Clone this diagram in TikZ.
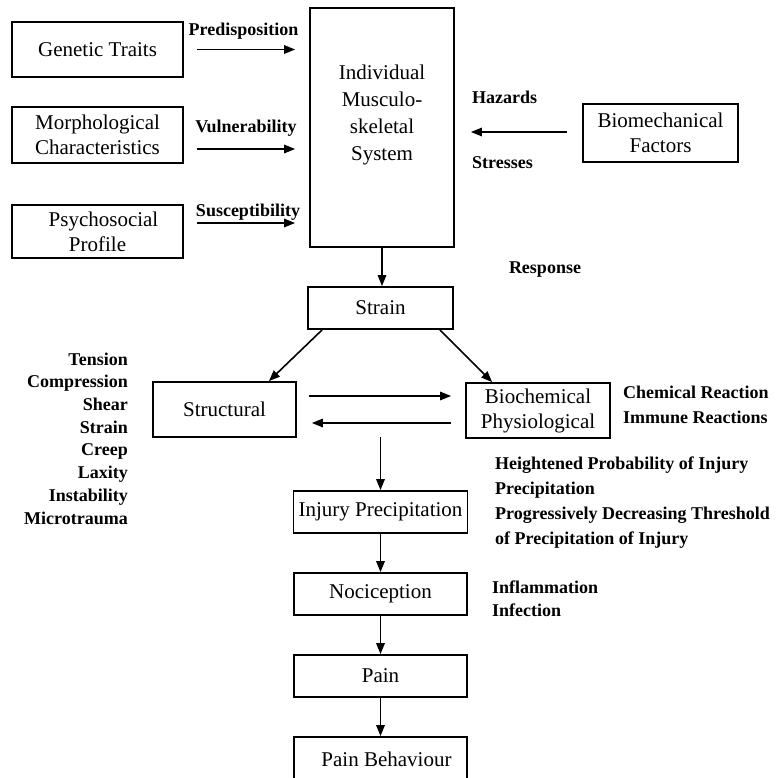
\documentclass[tikz,border=0pt]{standalone}
\usepackage{fontspec}
\setmainfont{Liberation Serif}
\usetikzlibrary{arrows.meta}
\begin{document}
\begin{tikzpicture}[x=1pt,y=-1pt,
  box/.style={draw, line width=1.8pt, inner sep=0pt, align=center,
    font=\fontsize{21}{25}\selectfont},
  lbl/.style={inner sep=0pt, font=\bfseries\fontsize{18}{25}\selectfont},
  arr/.style={line width=1.6pt, -{Triangle[length=11pt,width=8.5pt]}},
]
\useasboundingbox (0,0) rectangle (779,778);
\clip (0,0) rectangle (779,778);

% input factors
\node[box, minimum width=171pt, minimum height=55pt] (gen) at (97.5,49.5) {Genetic Traits};
\node[box, minimum width=171pt, minimum height=56pt] (morph) at (97.5,135) {Morphological\\Characteristics};
\node[box, minimum width=171pt, minimum height=53pt] (psy) at (97.5,231.5) {\hspace*{12pt}Psychosocial\\Profile};

% central system
\node[box, minimum width=144pt, minimum height=239pt] (ms) at (382,127.5) {};
\node[inner sep=0pt, align=center, font=\fontsize{21}{27}\selectfont] (mstext) at (382,115)
  {Individual\\Musculo-\\skeletal\\System};

\node[box, minimum width=155pt, minimum height=58pt] (bio) at (660.5,133) {Biomechanical\\Factors};

% response chain
\node[box, minimum width=145pt, minimum height=42pt] (strain) at (380.5,308) {Strain};
\node[box, minimum width=143pt, minimum height=55pt] (struct) at (224.5,409.5) {Structural};
\node[box, minimum width=144pt, minimum height=55pt] (biochem) at (538,410.5) {Biochemical\\Physiological};
\node[box, minimum width=174pt, minimum height=42pt] (injury) at (380.5,512) {Injury Precipitation};
\node[box, minimum width=173pt, minimum height=42pt] (noci) at (380.5,594) {Nociception};
\node[box, minimum width=173pt, minimum height=42pt] (pain) at (380.5,676) {Pain};
\node[box, minimum width=173pt, minimum height=48pt] (painb) at (380.5,761) {\raisebox{3pt}{\hspace*{12pt}Pain Behaviour}};

% arrow labels
\node[lbl] (lpre) at (243.5,31) {Predisposition};
\node[lbl] (lvul) at (246,128) {Vulnerability};
\node[lbl] (lsus) at (248,212) {Susceptibility};
\node[lbl, anchor=west] (lhaz) at (472,97) {Hazards};
\node[lbl, anchor=west] (lstr) at (472,163) {Stresses};
\node[lbl] (lresp) at (545,270) {Response};

% side notes
\node[lbl, anchor=east, align=right, font=\bfseries\fontsize{18}{22.7}\selectfont] (props) at (128,438.5)
  {Tension\\Compression\\Shear\\Strain\\Creep\\Laxity\\Instability\\Microtrauma};
\node[lbl, anchor=west, align=left] (chem) at (623,404.5) {Chemical Reaction\\Immune Reactions};
\node[lbl, anchor=west, align=left] (prob) at (495,477.5) {Heightened Probability of Injury\\Precipitation};
\node[lbl, anchor=west, align=left] (thr) at (495,527.5) {Progressively Decreasing Threshold\\of Precipitation of Injury};
\node[lbl, anchor=west, align=left, font=\bfseries\fontsize{18}{23}\selectfont] (infl) at (492,598.5) {Inflammation\\Infection};

% connectors
\draw[arr, shorten <=13pt, shorten >=14pt] (gen.east) -- (gen.east -| ms.west);
\draw[arr, shorten <=13pt, shorten >=14pt] ([yshift=-14pt]morph.east) -- ([yshift=-14pt]morph.east -| ms.west);
\draw[arr, shorten <=13pt, shorten >=14pt] ([yshift=8.5pt]psy.east) -- ([yshift=8.5pt]psy.east -| ms.west);
\draw[arr, shorten <=15pt, shorten >=16pt] ([yshift=1pt]bio.west) -- ([yshift=1pt]bio.west -| ms.east);

\draw[arr] (ms.south) -- (ms.south |- strain.north);
\draw[arr] ([xshift=15pt]strain.south west) -- ([xshift=-28pt]struct.north east);
\draw[arr] ([xshift=-14pt]strain.south east) -- ([xshift=27pt]biochem.north west);

\draw[arr, shorten <=12pt, shorten >=14pt] ([yshift=13.5pt]struct.east) -- ([yshift=13.5pt]struct.east -| biochem.west);
\draw[arr, shorten <=14pt, shorten >=15pt] ([yshift=-13.5pt]struct.east -| biochem.west) -- ([yshift=-13.5pt]struct.east);

\coordinate (split) at (380.5,437);
\draw[arr] (split) -- (injury.north);
\draw[arr] (injury.south) -- (noci.north);
\draw[arr] (noci.south) -- (pain.north);
\draw[arr] (pain.south) -- (painb.north);
\end{tikzpicture}
\end{document}
